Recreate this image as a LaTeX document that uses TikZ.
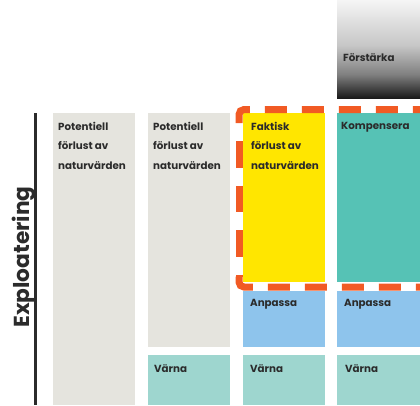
\documentclass[tikz,border=0pt]{standalone}
\usepackage{fontspec}
\setmainfont{Poppins}
\definecolor{cgray}{HTML}{E5E4DE}
\definecolor{cyellow}{HTML}{FFE600}
\definecolor{cteal}{HTML}{56C2B5}
\definecolor{cblue}{HTML}{8EC4EC}
\definecolor{cvarna}{HTML}{9ED6CF}
\definecolor{corange}{HTML}{F15A24}
\definecolor{ctext}{HTML}{2B2B2B}
\pgfdeclareverticalshading{fsshade}{100bp}{color(0bp)=(black!90); color(25bp)=(black!90); color(37bp)=(black!50); color(52bp)=(black!22); color(75bp)=(black!4); color(100bp)=(black!4)}
\tikzset{
  box/.style={draw=none, minimum width=82pt, inner sep=0pt, anchor=north west},
  lbl/.style={text=ctext, font=\fontsize{10.3}{19.5}\selectfont\bfseries, align=left, inner sep=0pt, anchor=north west},
  frame/.style={corange, line width=7pt, rounded corners=5pt},
}
\begin{document}
\begin{tikzpicture}[x=1pt,y=-1pt]
\useasboundingbox (0,0) rectangle (420,405);
\begin{scope}
\clip (0,0) rectangle (420,405);
% columns
\node[box, fill=cgray, minimum height=292pt] (g1) at (53,113) {};
\node[box, fill=cgray, minimum height=234pt] (g2) at (148,113) {};
\node[box, fill=cyellow, minimum height=169pt] (y3) at (243,113) {};
\node[box, fill=cteal, minimum height=169pt, minimum width=83pt] (t4) at (337,113) {};
\node[box, fill=cblue, minimum height=56pt] (a3) at (243,291) {};
\node[box, fill=cblue, minimum height=56pt, minimum width=83pt] (a4) at (337,291) {};
\node[box, fill=cvarna, minimum height=50pt] (v2) at (148,355) {};
\node[box, fill=cvarna, minimum height=50pt] (v3) at (243,355) {};
\node[box, fill=cvarna, minimum height=50pt, minimum width=83pt] (v4) at (337,355) {};
\shade[shading=fsshade] (337,0) rectangle (420,98);
\node[inner sep=0pt, minimum width=83pt, minimum height=98pt, anchor=north west] (fs) at (337,0) {};
% dashed frame
\draw[frame, dash pattern=on 22pt off 15pt] (239,123) -- (239,109.5) -- (428,109.5);
\draw[corange, line width=7pt, dash pattern=on 26.5pt off 18pt, dash phase=26.5pt] (239,123) -- (239,276.5);
\draw[frame, dash pattern=on 22pt off 15pt] (239,276.5) -- (239,287) -- (428,287);
\end{scope}
% axis line
\draw[ctext, line width=3pt] (35,113) -- (35,405);
\node[rotate=90, text=ctext, font=\fontsize{21.7}{26}\selectfont\bfseries, inner sep=0pt] (ex) at (24,257) {Exploatering};
% labels
\node[lbl] (l1) at ([xshift=5pt,yshift=-9pt]g1.north west) {Potentiell\\förlust av\\naturvärden};
\node[lbl] (l2) at ([xshift=5pt,yshift=-9pt]g2.north west) {Potentiell\\förlust av\\naturvärden};
\node[lbl] (l3) at ([xshift=8pt,yshift=-9pt]y3.north west) {Faktisk\\förlust av\\naturvärden};
\node[lbl] (l4) at ([xshift=4pt,yshift=-9pt]t4.north west) {Kompensera};
\node[lbl] (l5) at ([xshift=7pt,yshift=-8pt]a3.north west) {Anpassa};
\node[lbl] (l6) at ([xshift=7pt,yshift=-8pt]a4.north west) {Anpassa};
\node[lbl] (l7) at ([xshift=6pt,yshift=-9pt]v2.north west) {Värna};
\node[lbl] (l8) at ([xshift=7pt,yshift=-9pt]v3.north west) {Värna};
\node[lbl] (l9) at ([xshift=8pt,yshift=-9pt]v4.north west) {Värna};
\node[lbl] (l10) at ([xshift=6pt,yshift=-53pt]fs.north west) {Förstärka};
\end{tikzpicture}
\end{document}
